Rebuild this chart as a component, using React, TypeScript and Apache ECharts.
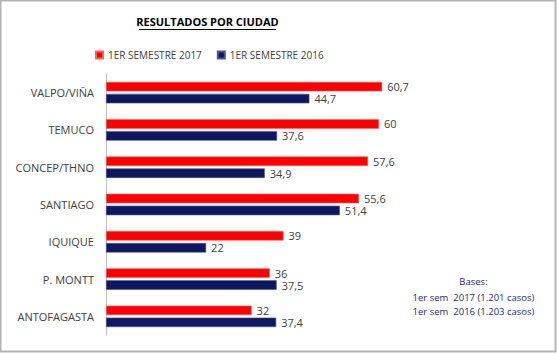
import React, { useEffect, useRef } from "react";
import * as echarts from "echarts";

const categories = ["VALPO/VIÑA", "TEMUCO", "CONCEP/THNO", "SANTIAGO", "IQUIQUE", "P. MONTT", "ANTOFAGASTA"];
const series2017 = [60.7, 60, 57.6, 55.6, 39, 36, 32];
const series2016 = [44.7, 37.6, 34.9, 51.4, 22, 37.5, 37.4];
const seriesNames = ["1ER SEMESTRE 2017", "1ER SEMESTRE 2016"];
const titleText = "RESULTADOS POR CIUDAD";
const basesLines = ["Bases:", "1er sem  2017 (1.201 casos)", "1er sem  2016 (1.203 casos)"];

const FONT = "'Open Sans', 'Noto Sans', sans-serif";

export default function App() {
  const ref = useRef<HTMLDivElement>(null);
  useEffect(() => {
    document.body.style.margin = "0";
    if (!ref.current) return;
    const chart = echarts.init(ref.current, undefined, { renderer: "svg" });
    const fmt = (p: any) => String(p.value).replace(".", ",");
    chart.setOption({
      animation: false,
      backgroundColor: "#ffffff",
      textStyle: { fontFamily: FONT },
      legend: {
        data: seriesNames,
        left: 90,
        top: 45,
        icon: "rect",
        itemWidth: 7,
        itemHeight: 7,
        itemGap: 15,
        textStyle: { fontSize: 10, color: "#404040", fontFamily: FONT },
      },
      grid: { left: 106, top: 74, width: 318.5, height: 261, containLabel: false },
      xAxis: {
        type: "value",
        min: 0,
        max: 70,
        show: false,
      },
      yAxis: {
        type: "category",
        data: categories,
        inverse: true,
        axisLine: { show: true, lineStyle: { color: "#bfbfbf", width: 1 } },
        axisTick: { show: false },
        axisLabel: { fontSize: 11, color: "#404040", margin: 12, fontFamily: FONT },
      },
      series: [
        {
          name: seriesNames[0],
          type: "bar",
          data: series2017,
          barWidth: 9.5,
          barGap: "26%",
          itemStyle: { color: "#ff0000", borderColor: "#ff6060", borderWidth: 0.6 },
          label: { show: true, position: "right", distance: 5, fontSize: 11, color: "#404040", formatter: fmt, fontFamily: FONT },
        },
        {
          name: seriesNames[1],
          type: "bar",
          data: series2016,
          barWidth: 9.5,
          itemStyle: { color: "#0f175e", borderColor: "#4a5590", borderWidth: 0.6 },
          label: { show: true, position: "right", distance: 5, fontSize: 11, color: "#404040", formatter: fmt, fontFamily: FONT },
        },
      ],
      graphic: [
        {
          type: "rect",
          shape: { x: 0.5, y: 0.5, width: 555, height: 351 },
          style: { fill: "none", stroke: "#b3b3b3", lineWidth: 2 },
          silent: true,
        },
        {
          type: "text",
          x: 207.5,
          y: 21,
          style: {
            text: titleText,
            fill: "#000000",
            font: `bold 11px ${FONT}`,
            textAlign: "center",
            textVerticalAlign: "middle",
          },
        },
        {
          type: "line",
          shape: { x1: 139, y1: 29.5, x2: 276, y2: 29.5 },
          style: { stroke: "#000000", lineWidth: 1 },
        },
        ...basesLines.map((t, i) => ({
          type: "text",
          x: 473.5,
          y: [281, 297, 311][i],
          style: {
            text: t,
            fill: "#1f2a6e",
            font: `9.5px ${FONT}`,
            textAlign: "center",
            textVerticalAlign: "middle",
          },
        })),
      ],
    });
    return () => chart.dispose();
  }, []);
  return <div ref={ref} style={{ width: 557, height: 353 }} />;
}
